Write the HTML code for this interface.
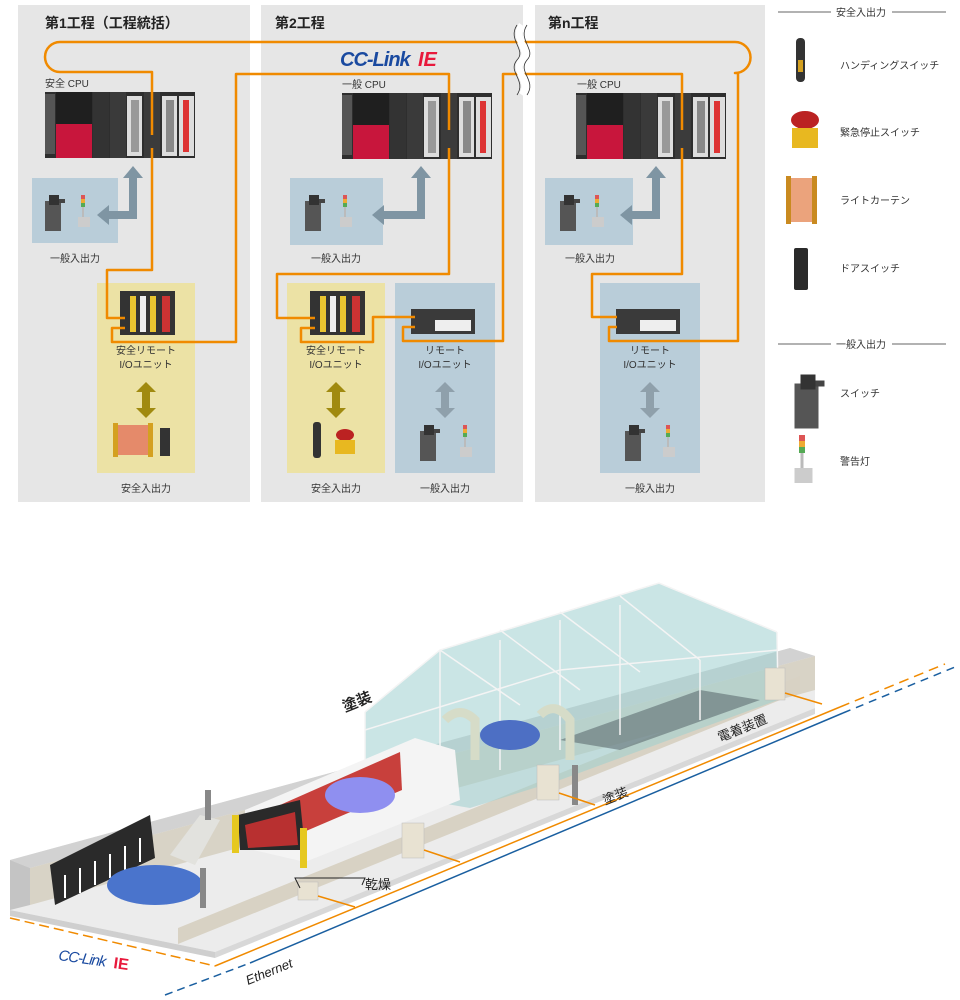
<!DOCTYPE html>
<html><head><meta charset="utf-8">
<style>
html,body{margin:0;padding:0;background:#fff;}
svg{display:block;}
text{font-family:"Liberation Sans","Noto Sans CJK JP",sans-serif;}
</style></head><body>
<svg width="960" height="1000" viewBox="0 0 960 1000" xmlns="http://www.w3.org/2000/svg">
<defs>
<g id="cpu">
  <rect x="0" y="0" width="150" height="66" fill="#2e2e2e"/>
  <rect x="0" y="2" width="10" height="60" fill="#555"/>
  <rect x="11" y="0" width="36" height="32" fill="#1f1f1f"/>
  <rect x="11" y="32" width="36" height="34" fill="#c8163c"/>
  <rect x="48" y="0" width="16" height="66" fill="#333"/>
  <rect x="65" y="0" width="16" height="66" fill="#3a3a3a"/>
  <rect x="82" y="4" width="15" height="60" fill="#ddd"/><rect x="86" y="8" width="8" height="52" fill="#999"/>
  <rect x="99" y="0" width="16" height="66" fill="#3b3b3b"/>
  <rect x="117" y="4" width="15" height="60" fill="#ddd"/><rect x="121" y="8" width="8" height="52" fill="#888"/>
  <rect x="134" y="4" width="15" height="60" fill="#ddd"/><rect x="138" y="8" width="6" height="52" fill="#d33"/>
</g>
<g id="sw">
  <rect x="0" y="6" width="16" height="30" fill="#555"/><rect x="4" y="0" width="10" height="10" fill="#333"/><rect x="14" y="4" width="6" height="4" fill="#444"/>
</g>
<g id="lamp">
  <rect x="3" y="0" width="4" height="4" fill="#d55"/><rect x="3" y="4" width="4" height="4" fill="#ea3"/><rect x="3" y="8" width="4" height="4" fill="#5a5"/>
  <rect x="4" y="12" width="2" height="12" fill="#bbb"/><rect x="0" y="22" width="12" height="10" fill="#ccc"/>
</g>
</defs>

<!-- panels -->
<rect x="18" y="5" width="232" height="497" fill="#e6e6e6"/>
<rect x="261" y="5" width="262" height="497" fill="#e6e6e6"/>
<rect x="535" y="5" width="230" height="497" fill="#e6e6e6"/>
<text x="45" y="28" font-size="14" font-weight="bold" fill="#222">第1工程（工程統括）</text>
<text x="275" y="28" font-size="14" font-weight="bold" fill="#222">第2工程</text>
<text x="548" y="28" font-size="14" font-weight="bold" fill="#222">第n工程</text>

<!-- colored boxes -->
<rect x="32" y="178" width="86" height="65" fill="#b9cdd9"/>
<rect x="290" y="178" width="93" height="67" fill="#b9cdd9"/>
<rect x="545" y="178" width="88" height="67" fill="#b9cdd9"/>
<rect x="97" y="283" width="98" height="190" fill="#ece2a5"/>
<rect x="287" y="283" width="98" height="190" fill="#ece2a5"/>
<rect x="395" y="283" width="100" height="190" fill="#b9cdd9"/>
<rect x="600" y="283" width="100" height="190" fill="#b9cdd9"/>

<!-- CPUs -->
<text x="45" y="87" font-size="10" fill="#333">安全 CPU</text>
<text x="342" y="88" font-size="10" fill="#333">一般 CPU</text>
<text x="577" y="88" font-size="10" fill="#333">一般 CPU</text>
<use href="#cpu" x="45" y="92"/>
<use href="#cpu" x="342" y="93"/>
<use href="#cpu" x="576" y="93"/>

<!-- gray arrows -->
<g fill="#7f95a3">
<path d="M129 178 h8 v41 h-28 v6 l-12 -10 l12 -10 v6 h20 v-33 h-6 l10 -12 l10 12 z"/>
<path d="M417 178 h8 v41 h-41 v6 l-12 -10 l12 -10 v6 h33 v-33 h-6 l10 -12 l10 12 z"/>
<path d="M652 178 h8 v41 h-28 v6 l-12 -10 l12 -10 v6 h20 v-33 h-6 l10 -12 l10 12 z"/>
</g>
<!-- devices in blue boxes -->
<use href="#sw" x="45" y="195"/><use href="#lamp" x="78" y="195"/>
<use href="#sw" x="305" y="195"/><use href="#lamp" x="340" y="195"/>
<use href="#sw" x="560" y="195"/><use href="#lamp" x="592" y="195"/>
<text x="75" y="262" font-size="10" fill="#333" text-anchor="middle">一般入出力</text>
<text x="336" y="262" font-size="10" fill="#333" text-anchor="middle">一般入出力</text>
<text x="590" y="262" font-size="10" fill="#333" text-anchor="middle">一般入出力</text>

<!-- remote units -->
<g>
<rect x="120" y="291" width="55" height="44" fill="#333"/><rect x="130" y="296" width="6" height="36" fill="#e8c430"/><rect x="140" y="296" width="6" height="36" fill="#eee"/><rect x="150" y="296" width="6" height="36" fill="#e8c430"/><rect x="162" y="296" width="8" height="36" fill="#c33"/>
<rect x="310" y="291" width="55" height="44" fill="#333"/><rect x="320" y="296" width="6" height="36" fill="#e8c430"/><rect x="330" y="296" width="6" height="36" fill="#eee"/><rect x="340" y="296" width="6" height="36" fill="#e8c430"/><rect x="352" y="296" width="8" height="36" fill="#c33"/>
<rect x="411" y="309" width="64" height="25" fill="#3a3a3a"/><rect x="435" y="320" width="36" height="11" fill="#eee"/>
<rect x="616" y="309" width="64" height="25" fill="#3a3a3a"/><rect x="640" y="320" width="36" height="11" fill="#eee"/>
</g>
<g font-size="10" fill="#333" text-anchor="middle">
<text x="146" y="354">安全リモート</text><text x="146" y="368">I/Oユニット</text>
<text x="336" y="354">安全リモート</text><text x="336" y="368">I/Oユニット</text>
<text x="445" y="354">リモート</text><text x="445" y="368">I/Oユニット</text>
<text x="650" y="354">リモート</text><text x="650" y="368">I/Oユニット</text>
<text x="146" y="492">安全入出力</text>
<text x="336" y="492">安全入出力</text>
<text x="445" y="492">一般入出力</text>
<text x="650" y="492">一般入出力</text>
</g>
<!-- double arrows -->
<g>
<path d="M146 382 l10 10 h-6 v16 h6 l-10 10 l-10 -10 h6 v-16 h-6 z" fill="#a08a10"/>
<path d="M336 382 l10 10 h-6 v16 h6 l-10 10 l-10 -10 h6 v-16 h-6 z" fill="#a08a10"/>
<path d="M445 382 l10 10 h-6 v16 h6 l-10 10 l-10 -10 h6 v-16 h-6 z" fill="#8fa0ab"/>
<path d="M650 382 l10 10 h-6 v16 h6 l-10 10 l-10 -10 h6 v-16 h-6 z" fill="#8fa0ab"/>
</g>
<!-- safety devices -->
<rect x="115" y="425" width="35" height="30" fill="#e58a6a"/><rect x="113" y="423" width="5" height="34" fill="#d4a020"/><rect x="148" y="423" width="5" height="34" fill="#d4a020"/>
<rect x="160" y="428" width="10" height="28" fill="#333"/>
<rect x="313" y="422" width="8" height="36" rx="3" fill="#333"/>
<ellipse cx="345" cy="435" rx="9" ry="6" fill="#b22"/><rect x="335" y="440" width="20" height="14" fill="#e8b820"/>
<use href="#sw" x="420" y="425"/><use href="#lamp" x="460" y="425"/>
<use href="#sw" x="625" y="425"/><use href="#lamp" x="663" y="425"/>

<!-- orange network -->
<g fill="none" stroke="#f08a00" stroke-width="2.5" stroke-linejoin="round">
<path d="M520 42 H735 A15 15 0 0 1 735 73 H738 V341 H609 V327 H617"/>
<path d="M520 42 H60 A15 15 0 0 0 60 72 H152 V135"/>
<path d="M152 148 V270 H107 V318 H125"/>
<path d="M125 328 H112 V342 H236 V74 H449 V130"/>
<path d="M449 148 V274 H277 V318 H315"/>
<path d="M315 328 H301 V342 H373 V317 H415"/>
<path d="M415 327 H403 V341 H503 V74 H682 V130"/>
<path d="M682 148 V274 H592 V317 H617"/>
</g>
<!-- break squiggle -->
<path d="M522 25 C512 40 532 50 522 60 C512 72 532 80 522 95" fill="none" stroke="#fff" stroke-width="7"/>
<path d="M517 25 C507 40 527 50 517 60 C507 72 527 80 517 95" fill="none" stroke="#333" stroke-width="0.8"/>
<path d="M527 25 C517 40 537 50 527 60 C517 72 537 80 527 95" fill="none" stroke="#333" stroke-width="0.8"/>
<text x="340" y="66" font-size="20" font-style="italic" font-weight="bold" fill="#1a4aa0" letter-spacing="-1">CC-Link</text>
<text x="418" y="66" font-size="20" font-style="italic" font-weight="bold" fill="#e8193c">IE</text>

<!-- legend -->
<g stroke="#333" stroke-width="0.8">
<line x1="778" y1="12" x2="831" y2="12"/><line x1="892" y1="12" x2="946" y2="12"/>
<line x1="778" y1="344" x2="831" y2="344"/><line x1="892" y1="344" x2="946" y2="344"/>
</g>
<g font-size="10" fill="#333">
<text x="861" y="16" text-anchor="middle">安全入出力</text>
<text x="861" y="348" text-anchor="middle">一般入出力</text>
<text x="840" y="69">ハンディングスイッチ</text>
<text x="840" y="136">緊急停止スイッチ</text>
<text x="840" y="204">ライトカーテン</text>
<text x="840" y="272">ドアスイッチ</text>
<text x="840" y="397">スイッチ</text>
<text x="840" y="465">警告灯</text>
</g>
<rect x="796" y="38" width="9" height="44" rx="4" fill="#333"/><rect x="798" y="60" width="5" height="12" fill="#d4a020"/>
<ellipse cx="805" cy="120" rx="14" ry="9" fill="#b22"/><rect x="792" y="128" width="26" height="20" fill="#e8b820"/>
<rect x="788" y="178" width="26" height="44" fill="#eba37c"/><rect x="786" y="176" width="5" height="48" fill="#c98a20"/><rect x="812" y="176" width="5" height="48" fill="#c98a20"/>
<rect x="794" y="248" width="14" height="42" rx="2" fill="#2a2a2a"/>
<use href="#sw" x="793" y="373" transform="translate(-395 -185) scale(1.5)"/>
<use href="#lamp" x="795" y="440" transform="translate(-398 -225) scale(1.5)"/>

<!-- ===== bottom illustration ===== -->
<!-- floor slab -->
<polygon points="10,860 790,648 815,656 815,708 215,952 10,910" fill="#ececec"/>
<polygon points="10,910 215,952 215,958 10,916" fill="#cfcfcf"/>
<polygon points="215,952 815,708 815,714 215,958" fill="#d8d8d8"/>
<!-- back wall -->
<polygon points="10,860 790,648 815,656 30,868" fill="#d2d2d2"/>
<polygon points="30,868 815,656 815,690 30,905" fill="#d8d3c6"/>
<polygon points="10,860 30,868 30,905 10,910" fill="#c4c4c4"/>
<!-- front curb -->
<polygon points="178,928 800,676 800,692 178,944" fill="#d8d2c4"/>
<!-- glass house -->
<polygon points="365,790 365,712 440,650 659,583 777,632 778,700 560,780 470,808" fill="#9fcfcf" fill-opacity="0.55"/>
<polygon points="560,740 700,690 760,700 620,750" fill="#5e6c72" fill-opacity="0.6"/>
<g stroke="#f4f4f4" stroke-width="1.5" fill="none">
<polyline points="365,712 440,650 659,583 777,632"/>
<polyline points="365,730 560,670 778,650"/>
<line x1="365" y1="712" x2="365" y2="790"/><line x1="777" y1="632" x2="778" y2="700"/>
<line x1="440" y1="650" x2="440" y2="775"/><line x1="500" y1="640" x2="500" y2="770"/><line x1="560" y1="620" x2="560" y2="750"/><line x1="620" y1="605" x2="620" y2="735"/><line x1="700" y1="660" x2="700" y2="720"/>
<line x1="440" y1="650" x2="520" y2="705"/><line x1="500" y1="630" x2="580" y2="690"/><line x1="560" y1="612" x2="640" y2="672"/><line x1="620" y1="596" x2="700" y2="660"/>
</g>
<!-- robots & car in glass -->
<path d="M445 720 q15 -15 30 0 v40" stroke="#d6dcc8" stroke-width="9" fill="none"/>
<path d="M540 715 q15 -15 30 5 v40" stroke="#d6dcc8" stroke-width="9" fill="none"/>
<ellipse cx="510" cy="735" rx="30" ry="15" fill="#4d6fc4"/>
<!-- dryer -->
<polygon points="245,810 415,738 455,750 460,800 305,862 245,848" fill="#f4f4f4"/>
<polygon points="280,805 400,752 402,790 285,840" fill="#c8403c"/>
<ellipse cx="360" cy="795" rx="35" ry="18" fill="#8f8ff0"/>
<polygon points="238,815 300,800 305,850 240,850" fill="#2a2a2a"/>
<polygon points="245,825 295,812 298,845 248,848" fill="#b83030"/>
<rect x="232" y="815" width="7" height="38" fill="#e6c820"/><rect x="300" y="828" width="7" height="40" fill="#e6c820"/>
<!-- stairs & left booth -->
<polygon points="170,855 200,815 220,820 195,865" fill="#e2e2de"/>
<polygon points="50,865 150,815 155,858 55,905" fill="#2a2a2a"/>
<g stroke="#fff" stroke-width="2"><line x1="65" y1="875" x2="65" y2="898"/><line x1="80" y1="868" x2="80" y2="893"/><line x1="95" y1="861" x2="95" y2="885"/><line x1="110" y1="854" x2="110" y2="878"/><line x1="125" y1="846" x2="125" y2="870"/><line x1="140" y1="838" x2="140" y2="862"/></g>
<ellipse cx="155" cy="885" rx="48" ry="20" fill="#4a74cc"/>
<!-- people -->
<rect x="200" y="868" width="6" height="40" fill="#888"/><rect x="205" y="790" width="6" height="30" fill="#888"/><rect x="572" y="765" width="6" height="40" fill="#888"/>
<!-- control boxes -->
<g fill="#e8e2d2" stroke="#bbb" stroke-width="0.5">
<rect x="298" y="882" width="20" height="18"/><rect x="402" y="823" width="22" height="35"/><rect x="537" y="765" width="22" height="35"/><rect x="765" y="668" width="20" height="32"/>
</g>
<!-- network lines -->
<g fill="none" stroke-width="1.5">
<path d="M10,918 L215,966" stroke="#f08a00" stroke-dasharray="10,5"/>
<path d="M215,966 L840,707" stroke="#f08a00"/>
<path d="M840,707 L945,664" stroke="#f08a00" stroke-dasharray="10,6"/>
<path d="M165,995 L250,963" stroke="#1a5fa0" stroke-dasharray="8,5"/>
<path d="M250,963 L843,713" stroke="#1a5fa0"/>
<path d="M843,713 L955,667" stroke="#1a5fa0" stroke-dasharray="8,6"/>
<path d="M318,896 L355,907 M424,850 L460,862 M559,793 L595,805 M785,693 L822,704" stroke="#f08a00"/>
<path d="M300,888 L295,878 L365,878 L362,885" stroke="#222" stroke-width="1"/>
</g>
<g font-size="13" fill="#222">
<text x="345" y="712" font-weight="bold" font-size="15" transform="rotate(-22 345 712)">塗装</text>
<text x="365" y="889">乾燥</text>
<text x="605" y="805" transform="rotate(-22 605 805)">塗装</text>
<text x="720" y="742" transform="rotate(-22 720 742)">電着装置</text>
<text x="248" y="985" font-style="italic" font-size="13" transform="rotate(-22 248 985)">Ethernet</text>
</g>
<text x="58" y="960" font-size="15" font-style="italic" fill="#1a4aa0" letter-spacing="-1" transform="rotate(8 58 960)">CC-Link</text>
<text x="113" y="968" font-size="16" font-weight="bold" fill="#e8193c" transform="rotate(8 113 968)">IE</text>
</svg>
</body></html>
